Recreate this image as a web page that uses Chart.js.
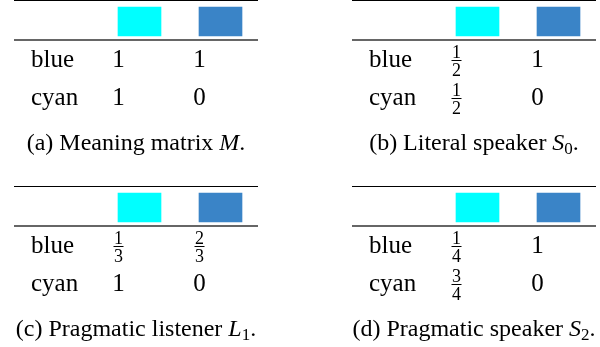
<!DOCTYPE html>
<html>
<head>
<meta charset="utf-8">
<script src="https://cdn.jsdelivr.net/npm/chart.js@4/dist/chart.umd.min.js"></script>
<style>
  html, body { margin: 0; padding: 0; background: #fff; }
  #fig { position: relative; width: 600px; height: 347px; overflow: hidden; }
  .panel { position: absolute; }
</style>
</head>
<body>
<div id="fig">
  <div class="panel" style="left:0;top:0"><canvas id="tabA" width="262" height="186"></canvas></div>
  <div class="panel" style="left:338px;top:0"><canvas id="tabB" width="262" height="186"></canvas></div>
  <div class="panel" style="left:0;top:186px"><canvas id="tabC" width="262" height="161"></canvas></div>
  <div class="panel" style="left:338px;top:186px"><canvas id="tabD" width="262" height="161"></canvas></div>
</div>
<script>
// columns are referents (colour swatches), rows are utterances
const referents = ['cyan', 'blue'];
const referentColors = ['#00ffff', '#3a84c7'];
const utterances = ['blue', 'cyan'];

// cell values, one row per utterance
const meaningM   = [['1', '1'],   ['1', '0']];
const literalS0  = [['1/2', '1'], ['1/2', '0']];
const listenerL1 = [['1/3', '2/3'], ['1', '0']];
const speakerS2  = [['1/4', '1'], ['3/4', '0']];

// captions: plain, italic and subscript parts
const captionA = [['(a) Meaning matrix '], ['M', 'i'], ['.']];
const captionB = [['(b) Literal speaker '], ['S', 'i'], ['0', 'sub'], ['.']];
const captionC = [['(c) Pragmatic listener '], ['L', 'i'], ['1', 'sub'], ['.']];
const captionD = [['(d) Pragmatic speaker '], ['S', 'i'], ['2', 'sub'], ['.']];

const SERIF = '"Liberation Serif", "Times New Roman", serif';

function hline(ctx, x0, x1, y) {
    ctx.beginPath();
    ctx.moveTo(x0, y);
    ctx.lineTo(x1, y);
    ctx.stroke();
}

const tablePlugin = {
    id: 'tableText',
    afterDatasetsDraw(chart, args, opts) {
        const { ctx, chartArea, scales: { x, y } } = chart;
        const ruleL = chartArea.left - 4, ruleR = chartArea.right - 3;
        ctx.save();

        // booktabs style rules
        ctx.strokeStyle = '#000';
        ctx.lineWidth = 1;
        hline(ctx, ruleL, ruleR, y.getPixelForValue(-0.5) - 2);
        ctx.strokeStyle = '#666';
        ctx.lineWidth = 2;
        hline(ctx, ruleL, ruleR, y.getPixelForValue(0.5) - 0.5);

        ctx.fillStyle = '#000';
        ctx.textBaseline = 'alphabetic';

        // row labels and cells
        opts.rows.forEach((row, r) => {
            const base = y.getPixelForValue(r + 1) + 7.5;
            ctx.font = '25px ' + SERIF;
            ctx.textAlign = 'left';
            ctx.fillText(utterances[r], x.getPixelForValue(0) - 27.5, base);

            row.forEach((v, c) => {
                const cx = x.getPixelForValue(c + 1) - 21;
                if (v.includes('/')) {
                    const [num, den] = v.split('/');
                    const barY = Math.round(base - 7.5) + 0.5;
                    ctx.font = '18px ' + SERIF;
                    ctx.textAlign = 'center';
                    ctx.fillText(num, cx, barY - 2.5);
                    ctx.fillText(den, cx, barY + 15.5);
                    const w = Math.max(ctx.measureText(num).width, ctx.measureText(den).width) + 1;
                    ctx.strokeStyle = '#000';
                    ctx.lineWidth = 1;
                    hline(ctx, cx - w / 2, cx + w / 2, barY);
                } else {
                    ctx.font = '25px ' + SERIF;
                    ctx.textAlign = 'center';
                    ctx.fillText(v, cx, base);
                }
            });
        });

        // caption centred under the table
        const fontOf = (kind) => kind === 'i' ? 'italic 24px ' + SERIF
            : kind === 'sub' ? '17px ' + SERIF : '24px ' + SERIF;
        let total = 0;
        opts.caption.forEach(([t, kind]) => {
            ctx.font = fontOf(kind);
            total += ctx.measureText(t).width;
        });
        let cx = (ruleL + ruleR) / 2 - total / 2;
        const capBase = chartArea.bottom + 33.5;
        ctx.textAlign = 'left';
        opts.caption.forEach(([t, kind]) => {
            ctx.font = fontOf(kind);
            ctx.fillText(t, cx, capBase + (kind === 'sub' ? 4 : 0));
            cx += ctx.measureText(t).width;
        });
        ctx.restore();
    }
};

function makeTable(canvasId, rows, caption) {
    const canvas = document.getElementById(canvasId);
    const bottomPad = canvas.height - 116.5;
    return new Chart(canvas, {
        type: 'bar',
        data: {
            labels: ['utterance', ...referents],
            datasets: [{
                label: 'referent',
                data: [null, ...referents.map(() => [-0.38, 0.38])],
                backgroundColor: ['transparent', ...referentColors],
                borderWidth: 0,
                barThickness: 43
            }]
        },
        options: {
            responsive: false,
            devicePixelRatio: 1,
            animation: false,
            layout: { padding: { left: 18, right: 1, top: 2.5, bottom: bottomPad } },
            scales: {
                x: { type: 'category', display: false, offset: true },
                y: { type: 'linear', display: false, min: -0.5, max: 2.5, reverse: true }
            },
            plugins: {
                legend: { display: false },
                tooltip: { enabled: false },
                title: { display: false },
                tableText: { rows: rows, caption: caption }
            }
        },
        plugins: [tablePlugin]
    });
}

makeTable('tabA', meaningM, captionA);
makeTable('tabB', literalS0, captionB);
makeTable('tabC', listenerL1, captionC);
makeTable('tabD', speakerS2, captionD);
</script>
</body>
</html>
